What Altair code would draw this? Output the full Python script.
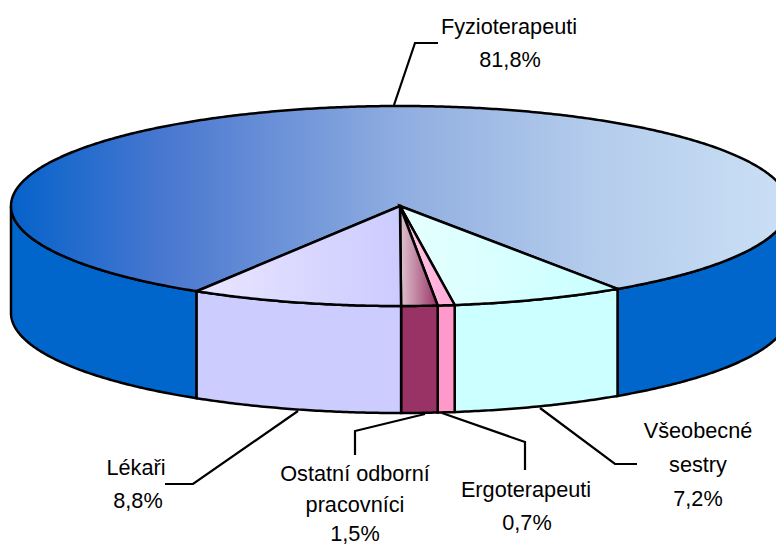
import math
import altair as alt

# values
labels = ["Fyzioterapeuti", "Všeobecné sestry", "Ergoterapeuti", "Ostatní odborní pracovníci", "Lékaři"]
shares = [81.8, 7.2, 0.7, 1.5, 8.8]
share_text = ["81,8%", "7,2%", "0,7%", "1,5%", "8,8%"]
side_colors = ["#0066CC", "#CCFFFF", "#FF99CC", "#993366", "#CCCCFF"]
top_left = ["#0562CA", "#E6FFFF", "#FFCCE6", "#E0C4D0", "#EAE6FF"]
top_right = ["#CBE0F5", "#C8FFFF", "#FFA8D8", "#993366", "#CBCBFF"]

FONT = "Liberation Sans"
CX, CY, RX, RY, DEPTH = 392, 198, 389, 100, 107
START = 56.0  # angle where the first slice ends (clockwise on screen)
STEP = 0.5


def pt(t, dz=0):
    r = math.radians(t)
    return [CX + RX * math.cos(r), CY + RY * math.sin(r) + dz]


def arc(a, b, dz=0):
    n = max(2, int(abs(b - a) / STEP))
    return [pt(a + (b - a) * i / n, dz) for i in range(n + 1)]


def feature(coords, kind="Polygon"):
    g = {"type": kind, "coordinates": [coords] if kind == "Polygon" else coords}
    return {"type": "Feature", "geometry": g, "properties": {}}


proj = dict(type="identity", scale=1, translate=[0, 0])


def shape(coords, fill=None, grad=None, kind="Polygon", width=2.5):
    kw = dict(stroke="black", strokeWidth=width, strokeJoin="miter", strokeMiterLimit=3)
    if grad:
        kw["fill"] = alt.Gradient(
            gradient="linear", x1=0, x2=1, y1=0, y2=0,
            stops=[alt.GradientStop(offset=o, color=c) for o, c in grad],
        )
    elif fill:
        kw["fill"] = fill
    else:
        kw["filled"] = False
    return (
        alt.Chart(alt.Data(values=[feature(coords, kind)]))
        .mark_geoshape(**kw)
        .project(**proj)
    )


a = START
spans_front = []
for s in shares[1:]:
    b = a + s * 3.6
    spans_front.append((a, b))
    a = b
back = (a, START + 360)

layers = []
layers.append(shape(arc(a, 180) + arc(180, a, DEPTH) + [pt(a)], side_colors[0]))
layers.append(shape(arc(0, START) + arc(START, 0, DEPTH) + [pt(0)], side_colors[0]))
layers.append(
    shape(
        [[CX, CY]] + arc(back[0], back[1]) + [[CX, CY]],
        grad=[(0, "#0562CA"), (0.2, "#4A78D0"), (0.5, "#8FADE0"), (0.75, "#B4CCEC"), (1, "#CBE0F5")],
    )
)
for i, (p, q) in enumerate(spans_front, start=1):
    layers.append(shape(arc(p, q) + arc(q, p, DEPTH) + [pt(p)], side_colors[i]))
for i, (p, q) in enumerate(spans_front, start=1):
    layers.append(
        shape(
            [[CX, CY]] + arc(p, q) + [[CX, CY]],
            grad=[(0, top_left[i]), (1, top_right[i])],
        )
    )

leaders = [
    [(394, 105), (415, 43), (438, 43)],
    [(540, 408), (615, 464), (637, 464)],
    [(442, 413), (525, 442), (525, 470)],
    [(425, 414), (355, 431), (355, 455)],
    [(298, 411), (193, 484), (165, 484)],
]
for line in leaders:
    layers.append(shape([[x - 8, y - 8] for x, y in line], kind="LineString", width=2.2))

text_rows = [
    ("Fyzioterapeuti", 509, 27), ("81,8%", 510, 60),
    ("Všeobecné", 698, 431), ("sestry", 698, 465), ("7,2%", 698, 499),
    ("Ergoterapeuti", 526, 490), ("0,7%", 527, 523),
    ("Ostatní odborní", 355, 474), ("pracovníci", 355, 505), ("1,5%", 355, 534),
    ("Lékaři", 136, 468), ("8,8%", 138, 501),
]
text = (
    alt.Chart(alt.Data(values=[{"t": t, "lon": x - 8, "lat": y - 8} for t, x, y in text_rows]))
    .mark_text(font=FONT, fontSize=21.7, color="black", align="center", baseline="middle")
    .encode(longitude="lon:Q", latitude="lat:Q", text="t:N")
    .project(**proj)
)
layers.append(text)

chart = (
    alt.layer(*layers)
    .properties(width=768, height=538, padding=0, autosize=alt.AutoSizeParams(type="none"))
    .configure_view(stroke=None)
)
chart.save("out.html", embed_options={"renderer": "svg", "actions": False})
